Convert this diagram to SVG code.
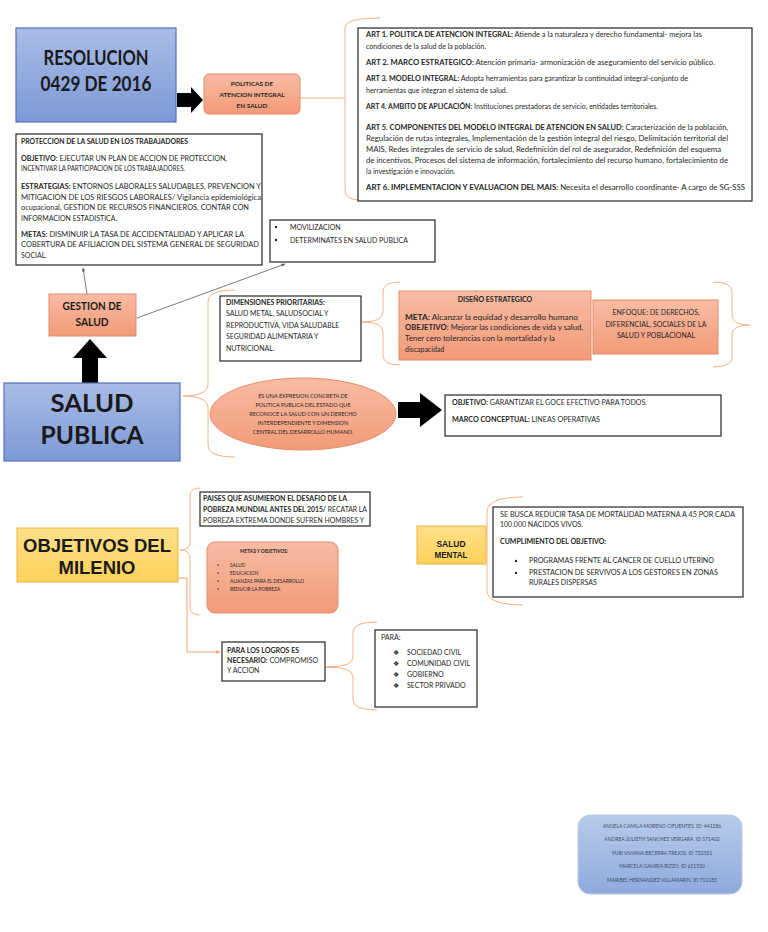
<svg xmlns="http://www.w3.org/2000/svg" width="768" height="932" viewBox="0 0 768 932">
<defs>
<linearGradient id="gBlue" x1="0" y1="0" x2="0" y2="1"><stop offset="0" stop-color="#a9bce6"/><stop offset="1" stop-color="#7d99d6"/></linearGradient>
<linearGradient id="gBlue2" x1="0" y1="0" x2="0" y2="1"><stop offset="0" stop-color="#b8cbeb"/><stop offset="1" stop-color="#8eaadc"/></linearGradient>
<linearGradient id="gSal" x1="0" y1="0" x2="0" y2="1"><stop offset="0" stop-color="#f8bca3"/><stop offset="1" stop-color="#f29a78"/></linearGradient>
<linearGradient id="gYel" x1="0" y1="0" x2="0" y2="1"><stop offset="0" stop-color="#ffe08a"/><stop offset="1" stop-color="#fdd15a"/></linearGradient>
<marker id="ah" viewBox="0 0 10 10" refX="9" refY="5" markerWidth="5" markerHeight="5" orient="auto"><path d="M0,1 L10,5 L0,9 Z" fill="#595959"/></marker>
<marker id="ao" viewBox="0 0 10 10" refX="9" refY="5" markerWidth="5" markerHeight="5" orient="auto"><path d="M0,1 L10,5 L0,9 Z" fill="#f4a06e"/></marker>
</defs>
<style>
.box{fill:#fff;stroke:#262626;stroke-width:1.2}
.sal{fill:url(#gSal);stroke:#e58b68;stroke-width:1}
.blu{fill:url(#gBlue);stroke:#4f72b8;stroke-width:1.2}
.yel{fill:url(#gYel);stroke:#f2b43c;stroke-width:1}
.br{fill:none;stroke:#f4b183;stroke-width:1}
.t{font-family:Lato,"Liberation Sans",sans-serif;font-size:7px;fill:#262626}
.s{font-family:Lato,"Liberation Sans",sans-serif;font-size:5.5px;fill:#262626}
.p{font-family:Lato,"Liberation Sans",sans-serif;font-size:6.4px;font-weight:bold;fill:#262626}
.xs{font-family:Lato,"Liberation Sans",sans-serif;font-size:4.8px;fill:#262626}
.nm{font-family:Lato,"Liberation Sans",sans-serif;font-size:5px;fill:#3f4f66}
.b{font-weight:bold}
.ttl{font-family:Lato,"Liberation Sans",sans-serif;font-weight:bold;fill:#1a1a1a}
.ar{font-family:"Liberation Sans",Arial,sans-serif;font-weight:bold;fill:#1a1a1a}
.blk{fill:#000}
</style>
<rect width="768" height="932" fill="#fff"/>

<g id="connectors">
<path class="br" d="M300,98 H345"/>
<path class="br" d="M380,18 Q345,18 345,28 V190 Q345,200 360,200"/>
<path class="br" d="M235,290 Q208,290 208,302 V384 Q208,396 183,396 Q208,396 208,408 V445 Q208,457 235,457"/>
<path class="br" d="M400,282 Q383,282 383,292 V312 Q383,322 362,322 Q383,322 383,332 V355 Q383,365 400,365"/>
<path class="br" d="M713,282 Q732,282 732,292 V315 Q732,325 750,325 Q732,325 732,335 V357 Q732,367 713,367"/>
<path class="br" d="M200,488 Q190,488 190,496 V542 Q190,550 180,550 Q190,550 190,558 V607 Q190,615 200,615"/>
<path class="br" d="M523,497 Q487,497 487,512 V590 Q487,605 523,605"/>
<path class="br" d="M377,622 Q353,622 353,632 V657 Q353,667 327,667 Q353,667 353,677 V700 Q353,710 377,710"/>
<path class="br" d="M325,667 H335"/>
<path fill="none" stroke="#f4a06e" stroke-width="1" d="M178,578 H187 V652 H220" marker-end="url(#ao)"/>
<line x1="87" y1="294" x2="83" y2="268" stroke="#595959" stroke-width="0.8" marker-end="url(#ah)"/>
<line x1="137" y1="318" x2="285" y2="264" stroke="#595959" stroke-width="0.8" marker-end="url(#ah)"/>
<path class="blk" d="M177,93 H191 V87 L203,100 L191,113 V107 H177 Z"/>
<path class="blk" d="M90,339 L107,358 H98 V383 H82 V358 H73 Z"/>
<path class="blk" d="M398,402 H420 V393 L442,410 L420,427 V418 H398 Z"/>
</g>

<g id="resolucion">
<rect class="blu" x="16" y="28" width="160" height="94"/>
<text class="ttl" font-size="20" x="96" y="65" text-anchor="middle" textLength="105" lengthAdjust="spacingAndGlyphs">RESOLUCION</text>
<text class="ttl" font-size="20" x="96" y="91" text-anchor="middle" textLength="111" lengthAdjust="spacingAndGlyphs">0429 DE 2016</text>
</g>

<g id="politicas">
<rect class="sal" x="204" y="74" width="96" height="40" rx="5"/>
<text class="p" x="252" y="86" text-anchor="middle">POLITICAS DE</text>
<text class="p" x="252" y="97" text-anchor="middle">ATENCION INTEGRAL</text>
<text class="p" x="252" y="108" text-anchor="middle">EN SALUD</text>
</g>

<g id="articulos">
<rect class="box" x="358" y="28" width="394" height="173"/>
<text class="t" x="366" y="37" textLength="336" lengthAdjust="spacingAndGlyphs"><tspan class="b">ART 1. POLITICA DE ATENCION INTEGRAL:</tspan> Atiende a la naturaleza y derecho fundamental- mejora las</text>
<text class="t" x="366" y="49">condiciones de la salud de la población.</text>
<text class="t" x="366" y="65" textLength="349" lengthAdjust="spacingAndGlyphs"><tspan class="b">ART 2. MARCO ESTRATEGICO:</tspan> Atención primaria- armonización de aseguramiento del servicio público.</text>
<text class="t" x="366" y="81" textLength="322" lengthAdjust="spacingAndGlyphs"><tspan class="b">ART 3. MODELO INTEGRAL:</tspan> Adopta herramientas para garantizar la continuidad integral-conjunto de</text>
<text class="t" x="366" y="93">herramientas que integran el sistema de salud.</text>
<text class="t" x="366" y="109"><tspan class="b">ART 4. AMBITO DE APLICACIÓN:</tspan> Instituciones prestadoras de servicio, entidades territoriales.</text>
<text class="t" x="366" y="130" textLength="362" lengthAdjust="spacingAndGlyphs"><tspan class="b">ART 5. COMPONENTES DEL MODELO INTEGRAL DE ATENCION EN SALUD:</tspan> Caracterización de la población,</text>
<text class="t" x="366" y="141" textLength="362" lengthAdjust="spacingAndGlyphs">Regulación de rutas integrales, Implementación de la gestión integral del riesgo, Delimitación territorial del</text>
<text class="t" x="366" y="152" textLength="355" lengthAdjust="spacingAndGlyphs">MAIS, Redes integrales de servicio de salud, Redefinición del rol de asegurador, Redefinición del esquema</text>
<text class="t" x="366" y="163" textLength="362" lengthAdjust="spacingAndGlyphs">de incentivos, Procesos del sistema de información, fortalecimiento del recurso humano, fortalecimiento de</text>
<text class="t" x="366" y="174">la investigación e innovación.</text>
<text class="t" x="366" y="190" textLength="379" lengthAdjust="spacingAndGlyphs"><tspan class="b">ART 6. IMPLEMENTACION Y EVALUACION DEL MAIS:</tspan> Necesita el desarrollo coordinante- A cargo de SG-SSS</text>
</g>

<g id="proteccion">
<rect class="box" x="16" y="134" width="246" height="131"/>
<text class="t b" x="21" y="144" textLength="167" lengthAdjust="spacingAndGlyphs">PROTECCION DE LA SALUD EN LOS TRABAJADORES</text>
<text class="t" x="21" y="161" textLength="206" lengthAdjust="spacingAndGlyphs"><tspan class="b">OBJETIVO:</tspan> EJECUTAR UN PLAN DE ACCION DE PROTECCION,</text>
<text class="t" x="21" y="171" textLength="164" lengthAdjust="spacingAndGlyphs">INCENTIVAR LA PARTICIPACION DE LOS TRABAJADORES.</text>
<text class="t" x="21" y="189" textLength="240" lengthAdjust="spacingAndGlyphs"><tspan class="b">ESTRATEGIAS:</tspan> ENTORNOS LABORALES SALUDABLES, PREVENCION Y</text>
<text class="t" x="21" y="200" textLength="240" lengthAdjust="spacingAndGlyphs">MITIGACION DE LOS RIESGOS LABORALES/ Vigilancia epidemiológica</text>
<text class="t" x="21" y="210" textLength="228" lengthAdjust="spacingAndGlyphs">ocupacional, GESTION DE RECURSOS FINANCIEROS, CONTAR CON</text>
<text class="t" x="21" y="221">INFORMACION ESTADISTICA.</text>
<text class="t" x="21" y="237" textLength="223" lengthAdjust="spacingAndGlyphs"><tspan class="b">METAS:</tspan> DISMINUIR LA TASA DE ACCIDENTALIDAD Y APLICAR LA</text>
<text class="t" x="21" y="247" textLength="238" lengthAdjust="spacingAndGlyphs">COBERTURA DE AFILIACION DEL SISTEMA GENERAL DE SEGURIDAD</text>
<text class="t" x="21" y="258">SOCIAL.</text>
</g>

<g id="movilizacion">
<rect class="box" x="270" y="220" width="165" height="42"/>
<circle cx="276" cy="227" r="1.2" fill="#262626"/>
<text class="t" x="290" y="230">MOVILIZACION</text>
<circle cx="276" cy="240" r="1.2" fill="#262626"/>
<text class="t" x="290" y="243">DETERMINATES EN SALUD PUBLICA</text>
</g>

<g id="gestion">
<rect class="sal" x="49" y="294" width="87" height="42"/>
<text class="ttl" font-size="11" x="92" y="310" text-anchor="middle" textLength="59" lengthAdjust="spacingAndGlyphs">GESTION DE</text>
<text class="ttl" font-size="11" x="92" y="326" text-anchor="middle" textLength="33" lengthAdjust="spacingAndGlyphs">SALUD</text>
</g>

<g id="salud-publica">
<rect class="blu" x="4" y="383" width="176" height="78"/>
<text class="ttl" font-size="25" x="92" y="412" text-anchor="middle" textLength="83" lengthAdjust="spacingAndGlyphs">SALUD</text>
<text class="ttl" font-size="25" x="92" y="444" text-anchor="middle" textLength="103" lengthAdjust="spacingAndGlyphs">PUBLICA</text>
</g>

<g id="dimensiones">
<rect class="box" x="220" y="296" width="141" height="65"/>
<text class="t b" x="226" y="305">DIMENSIONES PRIORITARIAS:</text>
<text class="t" x="226" y="316">SALUD METAL, SALUDSOCIAL Y</text>
<text class="t" x="226" y="328">REPRODUCTIVA, VIDA SALUDABLE</text>
<text class="t" x="226" y="339">SEGURIDAD ALIMENTARIA Y</text>
<text class="t" x="226" y="351">NUTRICIONAL.</text>
</g>

<g id="diseno">
<rect class="sal" x="399" y="291" width="192" height="69"/>
<text class="t b" x="495" y="302" text-anchor="middle">DISEÑO ESTRATEGICO</text>
<text class="t" x="405" y="320" textLength="173" lengthAdjust="spacingAndGlyphs"><tspan class="b">META:</tspan> Alcanzar la equidad y desarrollo humano</text>
<text class="t" x="405" y="330" textLength="178" lengthAdjust="spacingAndGlyphs"><tspan class="b">OBEJETIVO:</tspan> Mejorar las condiciones de vida y salud,</text>
<text class="t" x="405" y="341" textLength="150" lengthAdjust="spacingAndGlyphs">Tener cero tolerancias con la mortalidad y la</text>
<text class="t" x="405" y="352">discapacidad</text>
</g>

<g id="enfoque">
<rect class="sal" x="593" y="300" width="125" height="54"/>
<text class="t" x="656" y="315" text-anchor="middle">ENFOQUE: DE DERECHOS,</text>
<text class="t" x="656" y="327" text-anchor="middle">DIFERENCIAL, SOCIALES DE LA</text>
<text class="t" x="656" y="338" text-anchor="middle">SALUD Y POBLACIONAL</text>
</g>

<g id="expresion">
<ellipse cx="303" cy="414" rx="93" ry="36" fill="url(#gSal)" stroke="#e58b68" stroke-width="1"/>
<text class="s" x="303" y="398" text-anchor="middle">ES UNA EXPRESION CONCRETA DE</text>
<text class="s" x="303" y="407" text-anchor="middle">POLITICA PUBLICA DEL ESTADO QUE</text>
<text class="s" x="303" y="416" text-anchor="middle">RECONOCE LA SALUD CON UN DERECHO</text>
<text class="s" x="303" y="425" text-anchor="middle">INTERDEPENDIENTE Y DIMENSION</text>
<text class="s" x="303" y="434" text-anchor="middle">CENTRAL DEL DESARROLLO HUMANO.</text>
</g>

<g id="objetivo">
<rect class="box" x="445" y="395" width="276" height="41"/>
<text class="t" x="452" y="405" textLength="195" lengthAdjust="spacingAndGlyphs"><tspan class="b">OBJETIVO:</tspan> GARANTIZAR EL GOCE EFECTIVO PARA TODOS.</text>
<text class="t" x="452" y="422" textLength="148" lengthAdjust="spacingAndGlyphs"><tspan class="b">MARCO CONCEPTUAL:</tspan> LINEAS OPERATIVAS</text>
</g>

<g id="milenio">
<rect class="yel" x="17" y="528" width="161" height="54"/>
<text class="ar" font-size="18.5" x="97" y="552" text-anchor="middle" textLength="148" lengthAdjust="spacingAndGlyphs">OBJETIVOS DEL</text>
<text class="ar" font-size="18.5" x="97" y="574" text-anchor="middle" textLength="77" lengthAdjust="spacingAndGlyphs">MILENIO</text>
</g>

<g id="paises">
<rect class="box" x="200" y="492" width="170" height="34"/>
<text class="t" x="203" y="501" textLength="144" lengthAdjust="spacingAndGlyphs"><tspan class="b">PAISES QUE ASUMIERON EL DESAFIO DE LA</tspan></text>
<text class="t" x="203" y="512" textLength="164" lengthAdjust="spacingAndGlyphs"><tspan class="b">POBREZA MUNDIAL ANTES DEL 2015/</tspan> RECATAR LA</text>
<text class="t" x="203" y="523" textLength="161" lengthAdjust="spacingAndGlyphs">POBREZA EXTREMA DONDE SUFREN HOMBRES Y</text>
</g>

<g id="metas">
<rect class="sal" x="207" y="542" width="131" height="71" rx="8"/>
<text class="xs b" x="264" y="553" text-anchor="middle">METAS Y OBJETIVOS:</text>
<circle cx="218" cy="565" r="0.8" fill="#262626"/>
<text class="xs" x="230" y="567">SALUD</text>
<circle cx="218" cy="573" r="0.8" fill="#262626"/>
<text class="xs" x="230" y="575">EDUCACION</text>
<circle cx="218" cy="581" r="0.8" fill="#262626"/>
<text class="xs" x="230" y="583">ALIANZAS PARA EL DESARROLLO</text>
<circle cx="218" cy="589" r="0.8" fill="#262626"/>
<text class="xs" x="230" y="591">REDUCIR LA POBREZA</text>
</g>

<g id="salud-mental">
<rect class="yel" x="417" y="526" width="69" height="38"/>
<text class="ar" font-size="9.5" x="451" y="547" text-anchor="middle" textLength="29" lengthAdjust="spacingAndGlyphs">SALUD</text>
<text class="ar" font-size="9.5" x="451" y="558" text-anchor="middle" textLength="33" lengthAdjust="spacingAndGlyphs">MENTAL</text>
</g>

<g id="mortalidad">
<rect class="box" x="493" y="507" width="250" height="90"/>
<text class="t" x="500" y="517" textLength="235" lengthAdjust="spacingAndGlyphs">SE BUSCA REDUCIR TASA DE MORTALIDAD MATERNA A 45 POR CADA</text>
<text class="t" x="500" y="527">100.000 NACIDOS VIVOS.</text>
<text class="t b" x="500" y="544">CUMPLIMIENTO DEL OBJETIVO:</text>
<circle cx="516" cy="561" r="1.2" fill="#262626"/>
<text class="t" x="529" y="563" textLength="185" lengthAdjust="spacingAndGlyphs">PROGRAMAS FRENTE AL CANCER DE CUELLO UTERINO</text>
<circle cx="516" cy="573" r="1.2" fill="#262626"/>
<text class="t" x="529" y="575" textLength="189" lengthAdjust="spacingAndGlyphs">PRESTACION DE SERVIVOS A LOS GESTORES EN ZONAS</text>
<text class="t" x="529" y="585">RURALES DISPERSAS</text>
</g>

<g id="logros">
<rect class="box" x="222" y="642" width="103" height="39"/>
<text class="t b" x="227" y="653">PARA LOS LOGROS ES</text>
<text class="t" x="227" y="663"><tspan class="b">NECESARIO:</tspan> COMPROMISO</text>
<text class="t" x="227" y="673">Y ACCION</text>
</g>

<g id="para">
<rect class="box" x="375" y="630" width="102" height="77"/>
<text class="t" x="381" y="640">PARA:</text>
<text class="t" x="393" y="655">❖</text>
<text class="t" x="407" y="655">SOCIEDAD CIVIL</text>
<text class="t" x="393" y="666">❖</text>
<text class="t" x="407" y="666">COMUNIDAD CIVIL</text>
<text class="t" x="393" y="677">❖</text>
<text class="t" x="407" y="677">GOBIERNO</text>
<text class="t" x="393" y="688">❖</text>
<text class="t" x="407" y="688">SECTOR PRIVADO</text>
</g>

<g id="autores">
<rect x="578" y="815" width="164" height="79" rx="12" fill="url(#gBlue2)" stroke="#b8cbe8" stroke-width="1"/>
<text class="nm" x="662" y="828" text-anchor="middle">ANGELA CAMILA MORENO CIFUENTES. ID: 441286</text>
<text class="nm" x="662" y="841" text-anchor="middle">ANDREA JULIETH SANCHEZ VERGARA. ID 571402</text>
<text class="nm" x="662" y="855" text-anchor="middle">YURI VIVIANA BECERRA TREJOS. ID 732531</text>
<text class="nm" x="662" y="868" text-anchor="middle">MARCELA GAVIRIA RIZZO. ID 611530</text>
<text class="nm" x="662" y="882" text-anchor="middle">MARIBEL HERNANDEZ VILLAMARIN. ID 711182</text>
</g>
</svg>
